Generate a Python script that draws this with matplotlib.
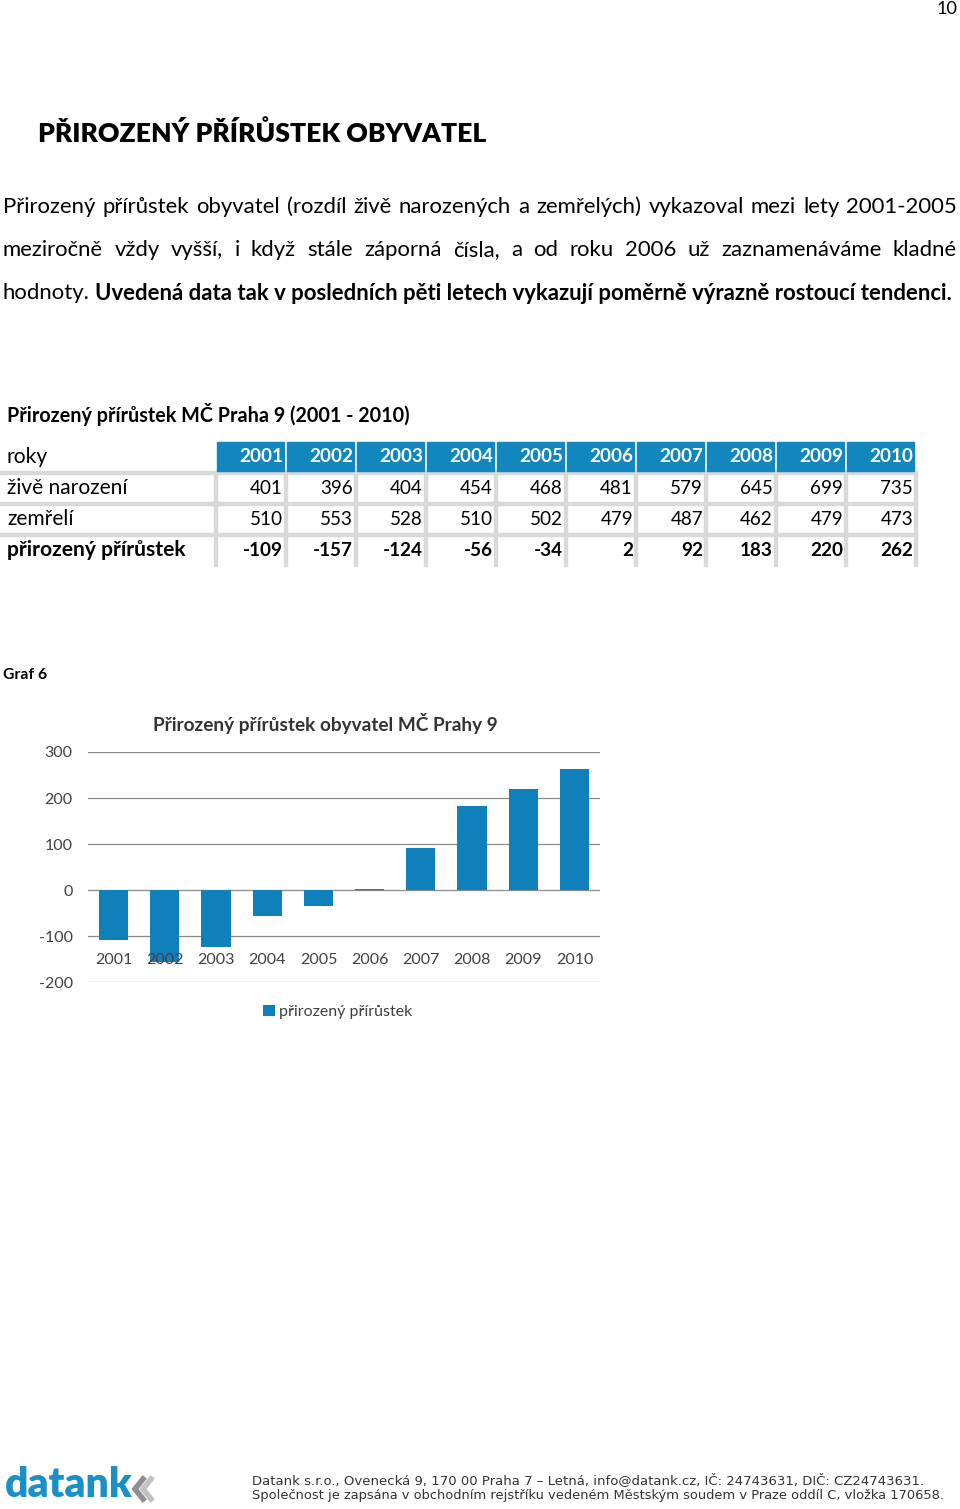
import matplotlib
matplotlib.use("Agg")
import matplotlib.pyplot as plt
from matplotlib.patches import Rectangle
from matplotlib.lines import Line2D

FONT = ["Lato", "DejaVu Sans"]
plt.rcParams["font.family"] = FONT

# data
years = ["2001", "2002", "2003", "2004", "2005", "2006", "2007", "2008", "2009", "2010"]
born = [401, 396, 404, 454, 468, 481, 579, 645, 699, 735]
died = [510, 553, 528, 510, 502, 479, 487, 462, 479, 473]
growth = [-109, -157, -124, -56, -34, 2, 92, 183, 220, 262]
row_labels = ["roky", "živě narození", "zemřelí", "přirozený přírůstek"]
yticks = [-200, -100, 0, 100, 200, 300]

para_lines = [
    "Přirozený přírůstek obyvatel (rozdíl živě narozených a zemřelých) vykazoval mezi lety 2001-2005",
    "meziročně vždy vyšší, i když stále záporná čísla, a od roku 2006 už zaznamenáváme kladné",
]
para_last_plain = "hodnoty."
para_last_bold = "Uvedená data tak v posledních pěti letech vykazují poměrně výrazně rostoucí tendenci."
footer = [
    "Datank s.r.o., Ovenecká 9, 170 00 Praha 7 – Letná, info@datank.cz, IČ: 24743631, DIČ: CZ24743631.",
    "Společnost je zapsána v obchodním rejstříku vedeném Městským soudem v Praze oddíl C, vložka 170658.",
]

BLUE_HEAD = "#1187bd"
BLUE_BAR = "#0f80b9"
GRID_GRAY = "#d9d9d9"
W, H = 960, 1509

fig = plt.figure(figsize=(W / 100, H / 100), dpi=100)
renderer = fig.canvas.get_renderer()


def fx(x):
    return x / W


def fy(y):
    return 1 - y / H


def width(s, size, weight="normal", family=FONT):
    t = fig.text(0, 0, s, fontsize=size, fontweight=weight, family=family)
    w = t.get_window_extent(renderer).width
    t.remove()
    return w


def fit(s, target, weight="normal", family=FONT):
    return 10 * target / width(s, 10, weight, family)


def put(x, y, s, size, ha="left", weight="normal", color="#000000", family=FONT):
    fig.text(fx(x), fy(y), s, fontsize=size, ha=ha, va="center",
             fontweight=weight, color=color, family=family)


# page number and heading
put(958, 9, "10", fit("10", 21), ha="right")
head = "PŘIROZENÝ PŘÍRŮSTEK OBYVATEL"
put(38, 133, head, fit(head, 449, "heavy"), weight="heavy")

# paragraph, justified
space10 = width("a a", 10) - width("aa", 10)
last_w10 = width(para_last_plain, 10) + space10 + width(para_last_bold, 10, "bold")
psize = 10 * 954 / last_w10
x0, x1 = 3, 957
for line, yy in zip(para_lines, [207, 250]):
    words = line.split(" ")
    ws = [width(w_, psize) for w_ in words]
    gap = (x1 - x0 - sum(ws)) / (len(words) - 1)
    xx = x0
    for w_, ww in zip(words, ws):
        put(xx, yy, w_, psize)
        xx += ww + gap
put(x0, 293, para_last_plain, psize)
put(x0 + width(para_last_plain, psize) + space10 * psize / 10, 293,
    para_last_bold, psize, weight="bold")

# table
ttl = "Přirozený přírůstek MČ Praha 9 (2001 - 2010)"
put(7, 414, ttl, fit(ttl, 401, "bold"), weight="bold")
tsize = fit("živě narození", 121)
nsize = tsize * 0.9
col0, colw = 217, 70
row_y = [457, 488, 519, 550]
for i, lab in enumerate(row_labels):
    put(7, row_y[i], lab, tsize, weight="bold" if i == 3 else "normal")
# grid lines
for yy in [471, 502, 533]:
    fig.patches.append(Rectangle((fx(0), fy(yy + 3)), fx(col0 + colw * len(years)), 3 / H,
                                 transform=fig.transFigure, color=GRID_GRAY, zorder=1))
for i in range(len(years) + 1):
    xl = col0 - 3 + colw * i
    fig.patches.append(Rectangle((fx(xl), fy(566)), 3 / W, (566 - 471) / H,
                                 transform=fig.transFigure, color=GRID_GRAY, zorder=1))
for i, yr in enumerate(years):
    xl = col0 + colw * i
    fig.patches.append(Rectangle((fx(xl), fy(471)), 67 / W, 29 / H,
                                 transform=fig.transFigure, color=BLUE_HEAD, zorder=2))
    xr = xl + 66
    put(xr, row_y[0], yr, nsize, ha="right", weight="bold", color="white")
    put(xr, row_y[1], str(born[i]), nsize, ha="right")
    put(xr, row_y[2], str(died[i]), nsize, ha="right")
    put(xr, row_y[3], str(growth[i]), nsize, ha="right", weight="bold")

# chart
put(3, 675, "Graf 6", fit("Graf 6", 44, "bold"), weight="bold")
ctitle = "Přirozený přírůstek obyvatel MČ Prahy 9"
put(325, 723, ctitle, fit(ctitle, 346, "bold"), ha="center", weight="bold", color="#333333")

ax = fig.add_axes([fx(88), fy(982), 512 / W, 230 / H])
xs = list(range(len(years)))
ax.bar(xs, growth, width=0.57, color=BLUE_BAR, zorder=3, label="přirozený přírůstek")
ax.set_xlim(-0.5, len(years) - 0.5)
ax.set_ylim(-200, 300)
ax.set_yticks(yticks)
ax.set_yticklabels([str(v) for v in yticks])
ax.set_xticks([])
ax.yaxis.grid(True, color="#8a8a8a", linewidth=0.9)
ax.set_axisbelow(True)
for s in ax.spines.values():
    s.set_visible(False)
ax.tick_params(axis="y", length=0, pad=11, labelsize=11.5, labelcolor="#404040")
for i, yr in enumerate(years):
    ax.text(i, -152, yr, ha="center", va="center", fontsize=11.5, color="#404040", zorder=4)
ax.legend(loc="center", bbox_to_anchor=(fx(338), fy(1012)), bbox_transform=fig.transFigure,
          frameon=False, fontsize=11.5, handlelength=0.7, handleheight=0.7,
          handletextpad=0.3, labelcolor="#404040")

# footer with logo
put(5, 1485, "datank", fit("datank", 128, "heavy"), weight="heavy", color="#1b8fc8")
for dx, col in [(0, "#8f8f8f"), (8, "#c2c2c2")]:
    fig.lines.append(Line2D([fx(143 + dx), fx(135 + dx), fx(143 + dx)],
                            [fy(1479), fy(1489), fy(1499)], transform=fig.transFigure,
                            color=col, linewidth=4, solid_joinstyle="miter"))
put(252, 1480, footer[0], fit(footer[0], 670, family="DejaVu Sans"),
    family="DejaVu Sans", color="#333333")
put(252, 1496, footer[1], fit(footer[1], 688, family="DejaVu Sans"),
    family="DejaVu Sans", color="#333333")

fig.savefig("out.png", dpi=100)
